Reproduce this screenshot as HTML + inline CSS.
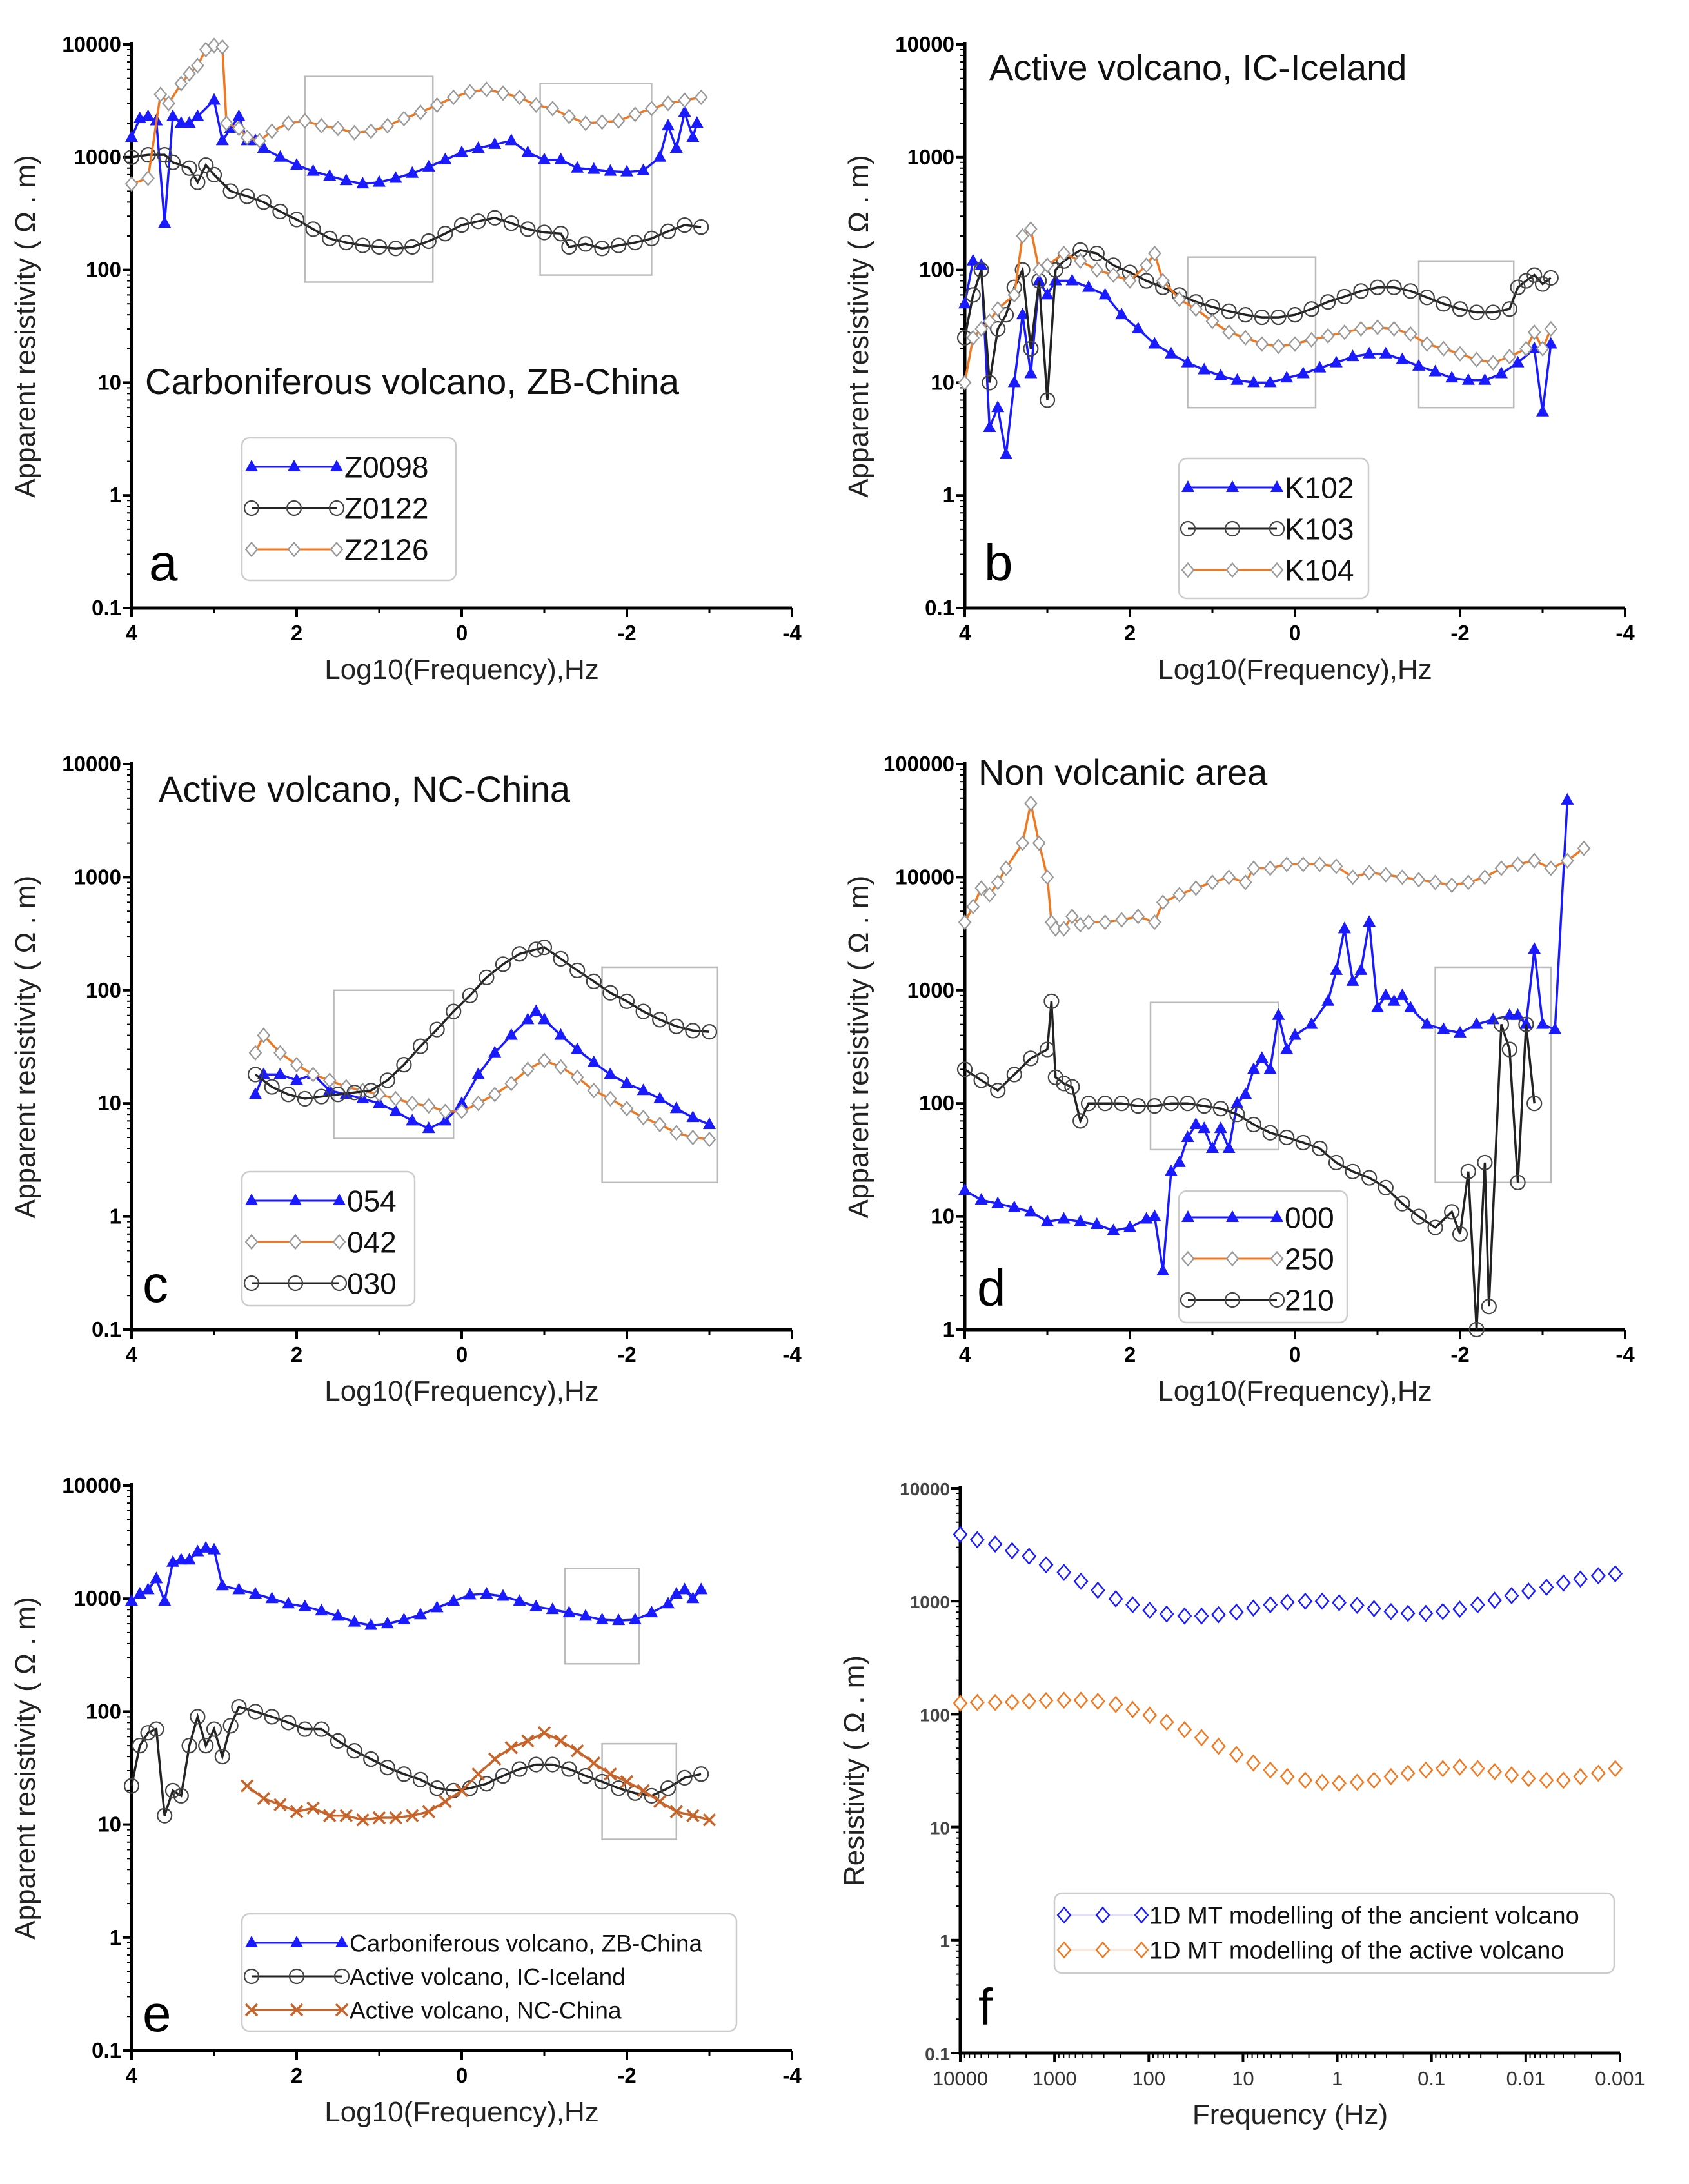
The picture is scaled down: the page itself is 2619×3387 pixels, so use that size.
<!DOCTYPE html>
<html><head><meta charset="utf-8"><style>
html,body{margin:0;padding:0;background:#fff;}
svg{display:block;font-family:"Liberation Sans",sans-serif;}
</style></head><body>
<svg id="fig" width="2619" height="3387" viewBox="0 0 2619 3387" xmlns="http://www.w3.org/2000/svg"></svg>
<script>
// ---- Panel a data ----
const aZ0098x=[4.0,3.9,3.8,3.7,3.6,3.5,3.4,3.3,3.2,3.0,2.9,2.8,2.7,2.6,2.5,2.4,2.2,2.0,1.8,1.6,1.4,1.2,1.0,0.8,0.6,0.4,0.2,0,-0.2,-0.4,-0.6,-0.8,-1.0,-1.2,-1.4,-1.6,-1.8,-2.0,-2.2,-2.4,-2.5,-2.6,-2.7,-2.8,-2.85];
const aZ0098y=[1500,2200,2300,2100,260,2300,2000,2000,2300,3200,1400,1800,2300,1400,1400,1200,1000,850,750,680,620,580,600,650,720,820,950,1100,1200,1300,1400,1100,950,950,800,780,750,740,760,1000,1900,1200,2500,1500,2000];
const aZ0122x=[4.0,3.8,3.6,3.5,3.3,3.2,3.1,3.0,2.8,2.6,2.4,2.2,2.0,1.8,1.6,1.4,1.2,1.0,0.8,0.6,0.4,0.2,0,-0.2,-0.4,-0.6,-0.8,-1.0,-1.2,-1.3,-1.5,-1.7,-1.9,-2.1,-2.3,-2.5,-2.7,-2.9];
const aZ0122y=[1000,1050,1050,900,800,600,850,700,500,450,400,330,280,230,190,175,165,160,155,160,180,210,250,270,290,260,230,215,210,160,170,155,165,175,190,220,250,240];
const aZ2126x=[4.0,3.8,3.65,3.55,3.4,3.3,3.2,3.1,3.0,2.9,2.85,2.7,2.6,2.45,2.3,2.1,1.9,1.7,1.5,1.3,1.1,0.9,0.7,0.5,0.3,0.1,-0.1,-0.3,-0.5,-0.7,-0.9,-1.1,-1.3,-1.5,-1.7,-1.9,-2.1,-2.3,-2.5,-2.7,-2.9];
const aZ2126y=[580,650,3600,3000,4500,5500,6500,9000,9800,9500,2000,1800,1500,1400,1700,2000,2100,1900,1800,1650,1700,1900,2200,2500,2900,3400,3800,4000,3700,3400,2900,2700,2300,2000,2050,2100,2400,2700,3000,3200,3400];
// ---- Panel b data ----
const bK102x=[4.0,3.9,3.8,3.7,3.6,3.5,3.4,3.3,3.2,3.1,3.0,2.9,2.7,2.5,2.3,2.1,1.9,1.7,1.5,1.3,1.1,0.9,0.7,0.5,0.3,0.1,-0.1,-0.3,-0.5,-0.7,-0.9,-1.1,-1.3,-1.5,-1.7,-1.9,-2.1,-2.3,-2.5,-2.7,-2.9,-3.0,-3.1];
const bK102y=[50,120,110,4,6,2.3,10,40,12,80,60,80,80,70,60,40,30,22,18,15,13,11.5,10.5,10,10,11,12,13.5,15,17,18,18,16,14,12.5,11,10.5,10.5,12,15,20,5.5,22];
const bK103x=[4.0,3.9,3.8,3.7,3.6,3.5,3.4,3.3,3.2,3.1,3.0,2.9,2.8,2.6,2.4,2.2,2.0,1.8,1.6,1.4,1.2,1.0,0.8,0.6,0.4,0.2,0,-0.2,-0.4,-0.6,-0.8,-1.0,-1.2,-1.4,-1.6,-1.8,-2.0,-2.2,-2.4,-2.6,-2.7,-2.8,-2.9,-3.0,-3.1];
const bK103y=[25,60,100,10,30,40,70,100,20,80,7,100,120,150,140,110,95,80,70,60,52,47,43,40,38,38,40,45,52,58,65,70,70,65,57,50,45,42,42,45,70,80,90,75,85];
const bK104x=[4.0,3.9,3.8,3.7,3.6,3.4,3.3,3.2,3.1,3.0,2.8,2.6,2.4,2.2,2.0,1.8,1.7,1.6,1.4,1.2,1.0,0.8,0.6,0.4,0.2,0,-0.2,-0.4,-0.6,-0.8,-1.0,-1.2,-1.4,-1.6,-1.8,-2.0,-2.2,-2.4,-2.6,-2.8,-2.9,-3.0,-3.1];
const bK104y=[10,25,30,35,45,60,200,230,100,110,140,120,100,90,80,110,140,80,55,45,35,28,25,22,21,22,24,26,28,30,31,30,27,22,20,18,16,15,17,20,28,20,30];
// ---- Panel c data ----
const c054x=[2.5,2.4,2.2,2.0,1.8,1.6,1.4,1.2,1.0,0.8,0.6,0.4,0.2,0,-0.2,-0.4,-0.6,-0.8,-0.9,-1.0,-1.2,-1.4,-1.6,-1.8,-2.0,-2.2,-2.4,-2.6,-2.8,-3.0];
const c054y=[12,18,18,16,18,13,12,11,10,8.5,7,6,7,10,18,28,40,55,65,55,40,30,23,18,15,13,11,9,7.5,6.5];
const c042x=[2.5,2.4,2.2,2.0,1.8,1.6,1.4,1.2,1.0,0.8,0.6,0.4,0.2,0,-0.2,-0.4,-0.6,-0.8,-1.0,-1.2,-1.4,-1.6,-1.8,-2.0,-2.2,-2.4,-2.6,-2.8,-3.0];
const c042y=[28,40,28,22,18,16,14,13,12,11,10,9.5,8.5,8.5,10,12,15,20,24,21,17,13,11,9,7.5,6.5,5.5,5,4.8];
const c030x=[2.5,2.3,2.1,1.9,1.7,1.5,1.3,1.1,0.9,0.7,0.5,0.3,0.1,-0.1,-0.3,-0.5,-0.7,-0.9,-1.0,-1.2,-1.4,-1.6,-1.8,-2.0,-2.2,-2.4,-2.6,-2.8,-3.0];
const c030y=[18,14,12,11,11.5,12,12.5,13,16,22,32,45,65,90,130,170,210,230,240,190,150,120,95,80,65,55,48,44,43];
// ---- Panel d data ----
const d000x=[4.0,3.8,3.6,3.4,3.2,3.0,2.8,2.6,2.4,2.2,2.0,1.8,1.7,1.6,1.5,1.4,1.3,1.2,1.1,1.0,0.9,0.8,0.7,0.6,0.5,0.4,0.3,0.2,0.1,0,-0.2,-0.4,-0.5,-0.6,-0.7,-0.8,-0.9,-1.0,-1.1,-1.2,-1.3,-1.4,-1.6,-1.8,-2.0,-2.2,-2.4,-2.6,-2.7,-2.8,-2.9,-3.0,-3.15,-3.3];
const d000y=[17,14,13,12,11,9,9.5,9,8.5,7.5,8,9.5,10,3.3,25,30,50,65,60,40,60,40,100,120,200,250,200,600,300,400,500,800,1500,3500,1200,1500,4000,700,900,800,900,700,500,450,420,500,550,600,600,500,2300,500,450,48000];
const d250x=[4.0,3.9,3.8,3.7,3.6,3.5,3.3,3.2,3.1,3.0,2.95,2.9,2.8,2.7,2.6,2.5,2.3,2.1,1.9,1.7,1.6,1.4,1.2,1.0,0.8,0.6,0.5,0.3,0.1,-0.1,-0.3,-0.5,-0.7,-0.9,-1.1,-1.3,-1.5,-1.7,-1.9,-2.1,-2.3,-2.5,-2.7,-2.9,-3.1,-3.3,-3.5];
const d250y=[4000,5500,8000,7000,9000,12000,20000,45000,20000,10000,4000,3500,3500,4500,3800,4000,4000,4200,4500,4000,6000,7000,8000,9000,10000,9000,12000,12000,13000,13000,13000,12500,10000,11000,10500,10000,9500,9000,8500,9000,10000,12000,13000,14000,12000,14000,18000];
const d210x=[4.0,3.8,3.6,3.4,3.2,3.0,2.95,2.9,2.8,2.7,2.6,2.5,2.3,2.1,1.9,1.7,1.5,1.3,1.1,0.9,0.7,0.5,0.3,0.1,-0.1,-0.3,-0.5,-0.7,-0.9,-1.1,-1.3,-1.5,-1.7,-1.9,-2.0,-2.1,-2.2,-2.3,-2.35,-2.5,-2.6,-2.7,-2.8,-2.9];
const d210y=[200,160,130,180,250,300,800,170,150,140,70,100,100,100,95,95,100,100,95,90,80,65,55,50,45,40,30,25,22,18,13,10,8,11,7,25,1,30,1.6,500,300,20,500,100];
// ---- Panel e data ----
const eZBx=[4.0,3.9,3.8,3.7,3.6,3.5,3.4,3.3,3.2,3.1,3.0,2.9,2.7,2.5,2.3,2.1,1.9,1.7,1.5,1.3,1.1,0.9,0.7,0.5,0.3,0.1,-0.1,-0.3,-0.5,-0.7,-0.9,-1.1,-1.3,-1.5,-1.7,-1.9,-2.1,-2.3,-2.5,-2.6,-2.7,-2.8,-2.9];
const eZBy=[950,1100,1200,1500,950,2100,2200,2200,2600,2800,2700,1300,1200,1100,1000,900,850,780,700,620,580,600,650,720,830,950,1080,1100,1050,950,850,800,750,700,650,640,650,750,900,1100,1200,1000,1200];
const eICx=[4.0,3.9,3.8,3.7,3.6,3.5,3.4,3.3,3.2,3.1,3.0,2.9,2.8,2.7,2.5,2.3,2.1,1.9,1.7,1.5,1.3,1.1,0.9,0.7,0.5,0.3,0.1,-0.1,-0.3,-0.5,-0.7,-0.9,-1.1,-1.3,-1.5,-1.7,-1.9,-2.1,-2.3,-2.5,-2.7,-2.9];
const eICy=[22,50,65,70,12,20,18,50,90,50,70,40,75,110,100,90,80,70,70,55,45,38,32,28,25,21,20,21,23,27,31,34,34,31,27,24,21,19,18,21,26,28];
const eNCx=[2.6,2.4,2.2,2.0,1.8,1.6,1.4,1.2,1.0,0.8,0.6,0.4,0.2,0,-0.2,-0.4,-0.6,-0.8,-1.0,-1.2,-1.4,-1.6,-1.8,-2.0,-2.2,-2.4,-2.6,-2.8,-3.0];
const eNCy=[22,17,15,13,14,12,12,11,11.5,11.5,12,13,16,20,28,38,48,55,65,55,45,35,28,24,20,16,13,12,11];
// ---- Panel f data (log10 frequency) ----
const fLogF=[4,3.82,3.63,3.45,3.27,3.09,2.90,2.72,2.54,2.35,2.17,1.99,1.81,1.62,1.44,1.26,1.07,0.89,0.71,0.53,0.34,0.16,-0.02,-0.21,-0.39,-0.57,-0.75,-0.94,-1.12,-1.30,-1.49,-1.67,-1.85,-2.03,-2.22,-2.40,-2.58,-2.77,-2.95];
const fAncient=[3900,3500,3200,2800,2500,2100,1800,1500,1250,1050,930,830,770,740,740,760,800,870,930,980,1000,1000,970,920,860,810,780,780,810,850,930,1020,1120,1230,1330,1450,1570,1680,1750];
const fActive=[125,127,127,128,130,132,133,133,130,122,110,98,85,73,62,52,44,37,32,28,26,25,24.5,25,26,28,30,32,33,34,33,31,29,27,26,26,28,30,33];
const linTicks=[4,2,0,-2,-4];
const fTickLabels=["10000","1000","100","10","1","0.1","0.01","0.001"];

const NS="http://www.w3.org/2000/svg";
const svg=document.getElementById('fig');
function mk(tag,attrs,parent){const e=document.createElementNS(NS,tag);for(const k in attrs)e.setAttribute(k,attrs[k]);(parent||svg).appendChild(e);return e;}
const BLUE="#1a1aff",BLACK="#222",ORANGE="#f07820";

function panel(p){
  const g=mk('g',{});
  
  
  const X=v=>p.x0+(p.xmax-v)/(p.xmax-p.xmin)*(p.x1-p.x0);
  const Y=v=>p.y0+(p.ymaxL-Math.log10(v))/(p.ymaxL-p.yminL)*(p.y1-p.y0);
  (p.rects||[]).forEach((r,i)=>{
    const re=mk('rect',{x:X(r[0]),y:Y(r[3]),width:X(r[1])-X(r[0]),height:Y(r[2])-Y(r[3]),fill:'none',stroke:'#bbb','stroke-width':2.5},g);
    
    
  });
  const ax=mk('path',{d:`M${p.x0},${p.y0-4}V${p.y1}H${p.x1}`,fill:'none',stroke:'#000','stroke-width':5},g);
  
  
  for(let L=p.yminL;L<=p.ymaxL;L++){
    const y=Y(Math.pow(10,L));
    mk('line',{x1:p.x0-14,x2:p.x0,y1:y,y2:y,stroke:'#000','stroke-width':4},g);
    if(L<p.ymaxL){for(let m=2;m<10;m++){const ym=Y(m*Math.pow(10,L));mk('line',{x1:p.x0-7,x2:p.x0,y1:ym,y2:ym,stroke:'#000','stroke-width':2},g);}}
    const t=mk('text',{x:p.x0-16,y:y+11,'text-anchor':'end','font-size':p.yfs||33,'font-weight':'bold',fill:p.yfill||'#000'},g);
    t.textContent=L<0?'0.1':String(Math.pow(10,L));
    
    
  }
  if(p.logx){
    for(let L=p.xmax;L>=p.xmin;L--){
      const x=X(L);
      mk('line',{x1:x,x2:x,y1:p.y1,y2:p.y1+14,stroke:'#000','stroke-width':4},g);
      if(L>p.xmin){for(let m=2;m<10;m++){const xm=X(L-1+Math.log10(m));mk('line',{x1:xm,x2:xm,y1:p.y1,y2:p.y1+8,stroke:'#000','stroke-width':2},g);}}
      const t=mk('text',{x:x,y:p.y1+50,'text-anchor':'middle','font-size':31,fill:'#333'},g);
      t.textContent=fTickLabels[p.xmax-L];
      
      
    }
  } else {
    linTicks.forEach(v=>{
      const x=X(v);
      mk('line',{x1:x,x2:x,y1:p.y1,y2:p.y1+14,stroke:'#000','stroke-width':4},g);
      if(v>-4){const xm=X(v-1);mk('line',{x1:xm,x2:xm,y1:p.y1,y2:p.y1+8,stroke:'#000','stroke-width':3},g);}
      const t=mk('text',{x:x,y:p.y1+50,'text-anchor':'middle','font-size':33,'font-weight':'bold'},g);
      t.textContent=String(v);
      
      
    });
  }
  const xt=mk('text',{x:(p.x0+p.x1)/2,y:p.y1+110,'text-anchor':'middle','font-size':44,fill:'#222'},g);
  xt.textContent=p.xtitle;
  
  
  const yc=(p.y0+p.y1)/2;
  const yt=mk('text',{x:p.x0-150,y:yc,'text-anchor':'middle','font-size':44,fill:'#222',transform:`rotate(-90 ${p.x0-150} ${yc})`},g);
  yt.textContent=p.ytitle;
  
  
  if(p.title){
    const tt=mk('text',{x:p.title[1],y:p.title[2],'font-size':56,fill:'#111'},g);
    tt.textContent=p.title[0];
    
    
  }
  const lt=mk('text',{x:p.letter[1],y:p.letter[2],'font-size':80,fill:'#000'},g);
  lt.textContent=p.letter[0];
  
  
  p.series.forEach(s=>{
    const sg=mk('g',{},g);
    
    
    if(s.line!==false){
      const d=s.x.map((v,i)=>(i?'L':'M')+X(v).toFixed(1)+','+Y(s.y[i]).toFixed(1)).join('');
      mk('path',{d:d,fill:'none',stroke:s.color,'stroke-width':3.5},sg);
    }
    s.x.forEach((v,i)=>marker(sg,s.m,X(v),Y(s.y[i]),s.mc||s.color,s.size||1));
  });
  const L=p.legend;
  const lb=mk('rect',{x:L.x,y:L.y,width:L.w,height:L.h,rx:12,fill:'#fff',stroke:'#ccc','stroke-width':2.5},g);
  
  
  p.series.forEach((s,i)=>{
    const ey=L.y+L.first+i*L.dy;
    const eg=mk('g',{},g);
    
    
    mk('line',{x1:L.lx0,x2:L.lx1,y1:ey,y2:ey,stroke:s.color,'stroke-width':3,opacity:s.line===false?0.3:1},eg);
    [L.lx0,(L.lx0+L.lx1)/2,L.lx1].forEach(x=>marker(eg,s.m,x,ey,s.mc||s.color,s.size||1));
    const t=mk('text',{x:L.lx1+12,y:ey+L.fs*0.36,'font-size':L.fs,fill:'#111'},eg);
    t.textContent=s.name;
  });
}
function marker(g,m,x,y,c,sz){
  if(m==='tri'){mk('path',{d:`M${x},${y-11}L${x+10},${y+7}L${x-10},${y+7}Z`,fill:c},g);}
  else if(m==='circ'){mk('circle',{cx:x,cy:y,r:11,fill:'none',stroke:'#444','stroke-width':2.2},g);}
  else if(m==='dia'){const r=10.5*sz;mk('path',{d:`M${x},${y-r}L${x+r*0.85},${y}L${x},${y+r}L${x-r*0.85},${y}Z`,fill:'#fff',stroke:c,'stroke-width':2.2*sz},g);}
  else if(m==='x'){mk('path',{d:`M${x-9},${y-9}L${x+9},${y+9}M${x+9},${y-9}L${x-9},${y+9}`,stroke:c,'stroke-width':3.5},g);}
}
const YT="Apparent resistivity ( Ω . m)", XT="Log10(Frequency),Hz";
const base={xmin:-4,xmax:4,ytitle:YT,xtitle:XT};
panel(Object.assign({},base,{id:'a',x0:204,x1:1228,y0:69,y1:943,ymaxL:4,yminL:-1,
  rects:[[1.9,0.35,78,5200],[-0.95,-2.3,90,4500]],
  title:["Carboniferous volcano, ZB-China",225,611],letter:["a",231,900],
  series:[{name:'Z0098',x:aZ0098x,y:aZ0098y,color:BLUE,m:'tri'},{name:'Z0122',x:aZ0122x,y:aZ0122y,color:BLACK,m:'circ'},{name:'Z2126',x:aZ2126x,y:aZ2126y,color:ORANGE,m:'dia',mc:'#999'}],
  legend:{x:375,y:679,w:332,h:221,first:45,dy:64,lx0:390,lx1:522,fs:46}}));
panel(Object.assign({},base,{id:'b',x0:1496,x1:2520,y0:69,y1:943,ymaxL:4,yminL:-1,
  rects:[[1.3,-0.25,6,130],[-1.5,-2.65,6,120]],
  title:["Active volcano, IC-Iceland",1534,124],letter:["b",1526,900],
  series:[{name:'K102',x:bK102x,y:bK102y,color:BLUE,m:'tri'},{name:'K103',x:bK103x,y:bK103y,color:BLACK,m:'circ'},{name:'K104',x:bK104x,y:bK104y,color:ORANGE,m:'dia',mc:'#999'}],
  legend:{x:1828,y:711,w:294,h:217,first:45,dy:64,lx0:1842,lx1:1980,fs:46}}));
panel(Object.assign({},base,{id:'c',x0:204,x1:1228,y0:1185,y1:2062,ymaxL:4,yminL:-1,
  rects:[[1.55,0.1,4.9,100],[-1.7,-3.1,2,160]],
  title:["Active volcano, NC-China",246,1243],letter:["c",221,2019],
  series:[{name:'054',x:c054x,y:c054y,color:BLUE,m:'tri'},{name:'042',x:c042x,y:c042y,color:ORANGE,m:'dia',mc:'#999'},{name:'030',x:c030x,y:c030y,color:BLACK,m:'circ'}],
  legend:{x:375,y:1817,w:268,h:208,first:45,dy:64,lx0:390,lx1:526,fs:46}}));
panel(Object.assign({},base,{id:'d',x0:1496,x1:2520,y0:1185,y1:2062,ymaxL:5,yminL:0,
  rects:[[1.75,0.2,39,780],[-1.7,-3.1,20,1600]],
  title:["Non volcanic area",1517,1217],letter:["d",1515,2025],
  series:[{name:'000',x:d000x,y:d000y,color:BLUE,m:'tri'},{name:'250',x:d250x,y:d250y,color:ORANGE,m:'dia',mc:'#999'},{name:'210',x:d210x,y:d210y,color:BLACK,m:'circ'}],
  legend:{x:1828,y:1847,w:261,h:204,first:41,dy:64,lx0:1842,lx1:1980,fs:46}}));
panel(Object.assign({},base,{id:'e',x0:204,x1:1228,y0:2304,y1:3180,ymaxL:4,yminL:-1,
  rects:[[-1.25,-2.15,265,1850],[-1.7,-2.6,7.4,52]],
  letter:["e",221,3150],
  series:[{name:'Carboniferous volcano, ZB-China',x:eZBx,y:eZBy,color:BLUE,m:'tri'},{name:'Active volcano, IC-Iceland',x:eICx,y:eICy,color:BLACK,m:'circ'},{name:'Active volcano, NC-China',x:eNCx,y:eNCy,color:'#c8642a',m:'x'}],
  legend:{x:375,y:2968,w:767,h:182,first:45,dy:52,lx0:390,lx1:530,fs:37}}));
panel({id:'f',x0:1489,x1:2512,y0:2308,y1:3184,xmin:-3,xmax:4,ymaxL:4,yminL:-1,logx:true,yfs:28,yfill:'#444',
  ytitle:"Resistivity ( Ω . m)",xtitle:"Frequency (Hz)",letter:["f",1517,3140],
  series:[{name:'1D MT modelling of the ancient volcano',x:fLogF,y:fAncient,color:'#9999ff',mc:BLUE,m:'dia',line:false,size:1.1},{name:'1D MT modelling of the active volcano',x:fLogF,y:fActive,color:'#f5b080',mc:ORANGE,m:'dia',line:false,size:1.1}],
  legend:{x:1635,y:2936,w:868,h:124,first:34,dy:54,lx0:1650,lx1:1770,fs:38}});
</script>
</body></html>
